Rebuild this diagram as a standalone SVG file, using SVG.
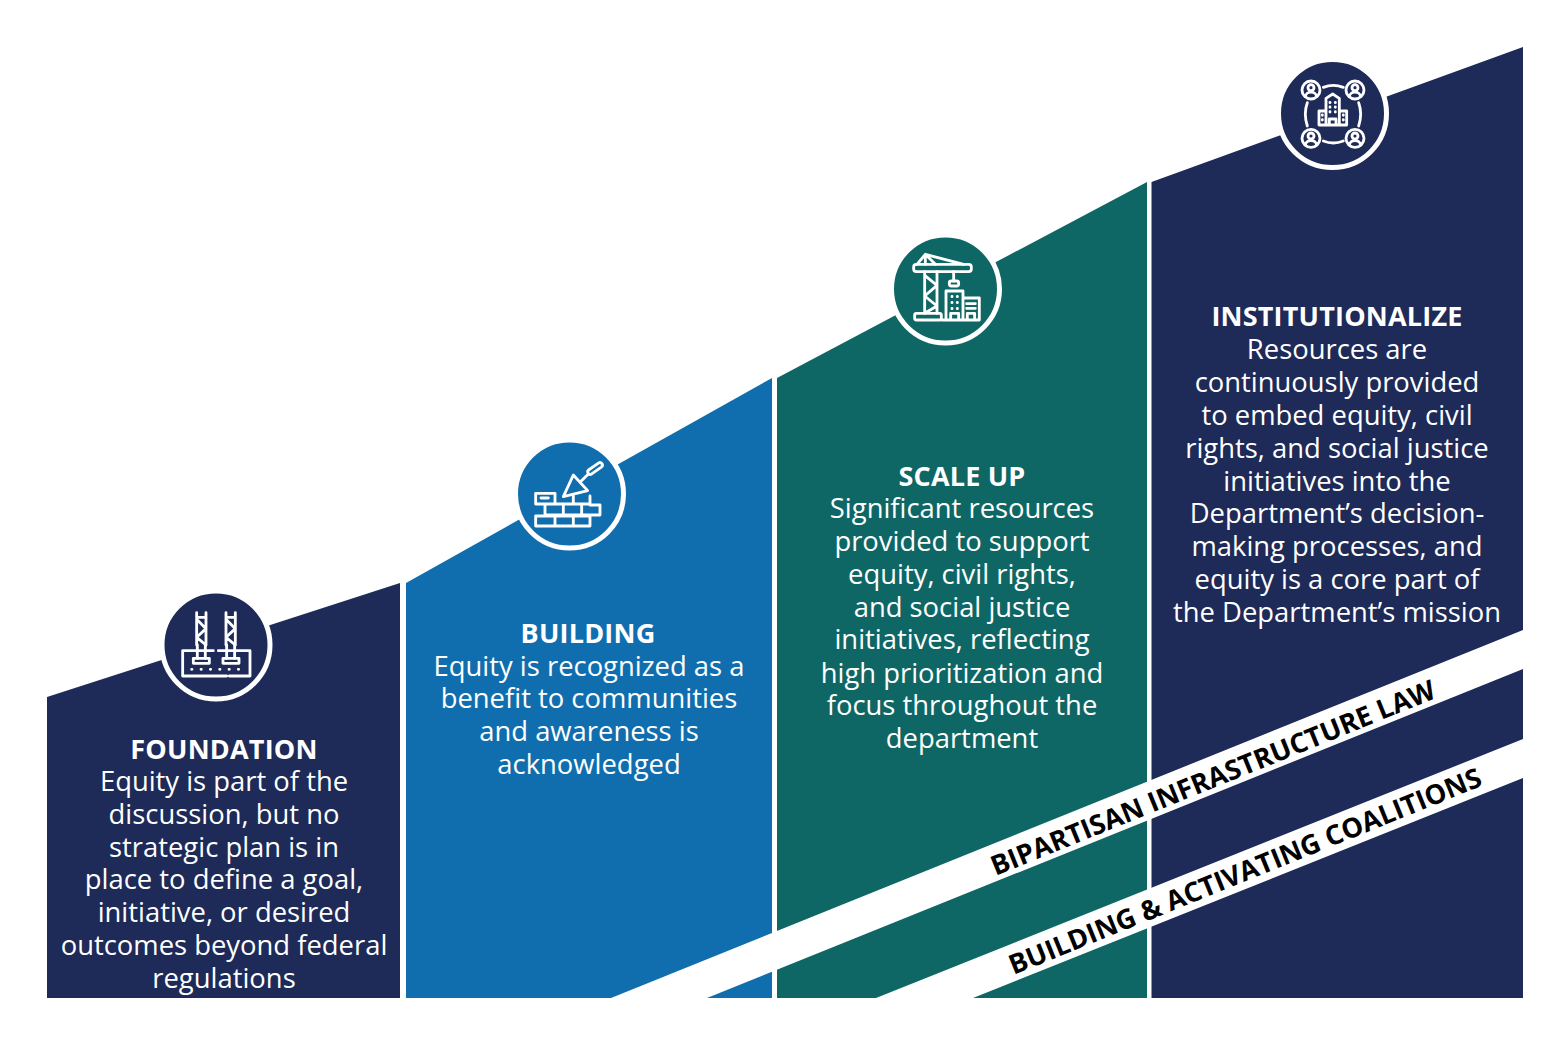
<svg xmlns="http://www.w3.org/2000/svg" width="1568" height="1042" viewBox="0 0 1568 1042">
<style>
text{font-family:"Open Sans","Noto Sans","Liberation Sans",sans-serif;text-anchor:middle;fill:#fff;font-size:27.4px}
.t{font-weight:700;font-size:27px;letter-spacing:.2px}
.b{font-weight:700;fill:#000;font-size:27.3px;text-anchor:start}
.navy{fill:#1e2a57}.blue{fill:#116eae}.teal{fill:#0e6765}
.ring{stroke:#fff;stroke-width:5}
.i{fill:none;stroke:#fff;stroke-width:8.5;stroke-linejoin:round;stroke-linecap:round}
</style>
<rect width="1568" height="1042" fill="#fff"/>

<g id="foundation">
<polygon class="navy" points="47,697 400,583 400,998 47,998"/>
<circle class="navy ring" cx="216" cy="645" r="54"/>
<g transform="translate(150,580) scale(.3333)">
<path class="i" d="M140 98V195M168 98V195M228 98V195M256 98V195M140 112H168M228 112H256M140 118L168 146L140 172L168 195M228 118L256 146L228 172L256 195"/>
<path class="i" d="M142 195V235M166 195V235M230 195V235M254 195V235"/>
<rect class="i" x="130" y="235" width="48" height="15"/>
<rect class="i" x="219" y="235" width="48" height="15"/>
<path class="i" d="M190 212H98V288H230M238 288H300V212H205"/>
<path class="i" stroke-dasharray="1 27" d="M125 268H268"/>
</g>
<text class="t" x="224" y="759">FOUNDATION</text>
<text x="224" y="791">Equity is part of the</text>
<text x="224" y="824">discussion, but no</text>
<text x="224" y="857">strategic plan is in</text>
<text x="224" y="889">place to define a goal,</text>
<text x="224" y="922">initiative, or desired</text>
<text x="224" y="955">outcomes beyond federal</text>
<text x="224" y="988">regulations</text>
</g>

<g id="building">
<polygon class="blue" points="406,583 772,378 772,998 406,998"/>
<circle class="blue ring" cx="569.500" cy="494" r="54"/>
<g transform="translate(505,430) scale(.3333)">
<path class="i" d="M92 190H150V222H92ZM150 222V192M205 222V198M92 222H255V198M120 222V255H285V225H255M175 222V255M230 222V255M92 258H255V288H92ZM150 258V288M205 258V288"/>
<path class="i" d="M108 204H130"/>
<path class="i" d="M205 135L175 200L248 182ZM228 154L250 132"/>
<rect class="i" x="245" y="108" width="50" height="15" rx="7.500" transform="rotate(-35 270 115)"/>
</g>
<text class="t" x="588" y="643">BUILDING</text>
<text x="589" y="676">Equity is recognized as a</text>
<text x="589" y="708">benefit to communities</text>
<text x="589" y="741">and awareness is</text>
<text x="589" y="774">acknowledged</text>
</g>

<g id="scale-up">
<polygon class="teal" points="777,378 1147,182 1147,998 777,998"/>
<circle class="teal ring" cx="945.500" cy="289" r="54"/>
<g transform="translate(882,226) scale(.3333)">
<rect class="i" x="95" y="115" width="173" height="22" rx="8"/>
<path class="i" d="M105 115L130 85L160 115M130 85L245 115M130 85V115M128 137V262M165 137V262M128 148L165 178L128 210L165 240L128 262"/>
<path class="i" d="M215 137V165"/>
<rect class="i" x="202" y="165" width="28" height="15" rx="6"/>
<rect class="i" x="98" y="262" width="80" height="20" rx="5"/>
<path class="i" d="M192 282V195H243V282ZM243 216H292V282H180M206 282V262H230V282M256 282V262H278V282M254 233H280M254 247H280"/>
<path class="i" stroke-dasharray="1 17" d="M210 211V250M226 211V250"/>
</g>
<text class="t" x="962" y="486">SCALE UP</text>
<text x="962" y="518">Significant resources</text>
<text x="962" y="551">provided to support</text>
<text x="962" y="584">equity, civil rights,</text>
<text x="962" y="617">and social justice</text>
<text x="962" y="649">initiatives, reflecting</text>
<text x="962" y="682.500">high prioritization and</text>
<text x="962" y="715">focus throughout the</text>
<text x="962" y="748">department</text>
</g>

<g id="institutionalize">
<polygon class="navy" points="1151.500,182 1523,47 1523,998 1151.500,998"/>
<circle class="navy ring" cx="1332.500" cy="113.500" r="54"/>
<g transform="translate(1270,50) scale(.3333)">
<circle class="i" cx="123" cy="120" r="27"/><circle class="i" cx="123" cy="113" r="9"/><path class="i" d="M106 140C108 122 138 122 140 140"/>
<circle class="i" cx="255" cy="120" r="27"/><circle class="i" cx="255" cy="113" r="9"/><path class="i" d="M238 140C240 122 270 122 272 140"/>
<circle class="i" cx="123" cy="265" r="27"/><circle class="i" cx="123" cy="258" r="9"/><path class="i" d="M106 285C108 267 138 267 140 285"/>
<circle class="i" cx="255" cy="265" r="27"/><circle class="i" cx="255" cy="258" r="9"/><path class="i" d="M238 285C240 267 270 267 272 285"/>
<path class="i" d="M160 112Q190 100 220 112M160 273Q190 285 220 273M112 158Q100 190 112 228M266 158Q278 190 266 228"/>
<path class="i" d="M168 225V145L188 132L208 145V225M168 183H147V225H230V183H208M178 225V207H198V225"/>
<path class="i" stroke-dasharray="1 13" d="M180 157V195M196 157V195M157 195V215M220 195V215"/>
</g>
<text class="t" x="1337" y="326">INSTITUTIONALIZE</text>
<text x="1337" y="359">Resources are</text>
<text x="1337" y="392">continuously provided</text>
<text x="1337" y="425">to embed equity, civil</text>
<text x="1337" y="458">rights, and social justice</text>
<text x="1337" y="491">initiatives into the</text>
<text x="1337" y="523">Department’s decision-</text>
<text x="1337" y="556">making processes, and</text>
<text x="1337" y="589">equity is a core part of</text>
<text x="1337" y="622">the Department’s mission</text>
</g>

<g id="band-bipartisan">
<polygon fill="#fff" points="1523,630 1523,669 707,998 611,998"/>
<text class="b" transform="translate(995.500,876) rotate(-22)">BIPARTISAN INFRASTRUCTURE LAW</text>
</g>
<g id="band-coalitions">
<polygon fill="#fff" points="1523,739 1523,778 973,998 876,998"/>
<text class="b" transform="translate(1013.500,975) rotate(-22)">BUILDING &amp; ACTIVATING COALITIONS</text>
</g>
<g id="connectors"/>
</svg>
